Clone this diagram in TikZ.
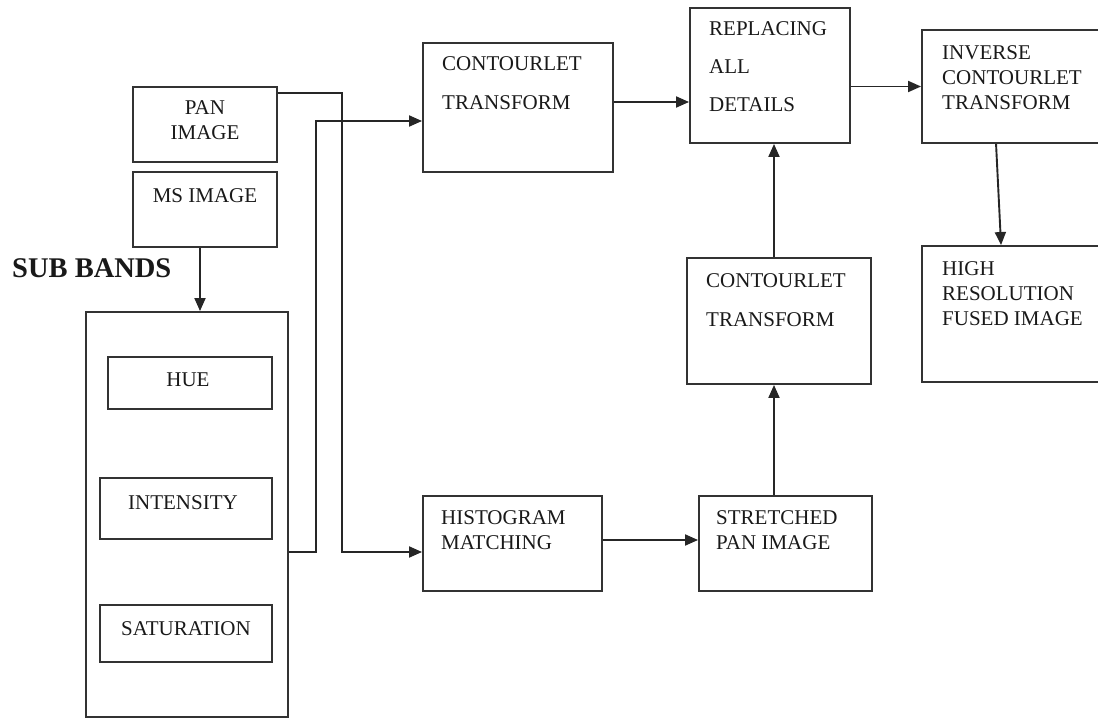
\documentclass[tikz,border=0pt]{standalone}
\usepackage{fontspec}
\setmainfont{Liberation Serif}
\usetikzlibrary{arrows.meta,calc}
\tikzset{
  box/.style={draw=black!80, line width=1.9pt, rectangle, inner sep=0pt},
  txt/.style={inner sep=0pt, align=left, anchor=north west, text=black!90,
    font=\fontsize{21}{25}\selectfont},
  ctxt/.style={txt, align=center, anchor=north},
  arr/.style={draw=black!85, line width=1.9pt, -{Triangle[length=13pt,width=11pt]}},
  ln/.style={draw=black!85, line width=1.9pt}
}
\begin{document}
\begin{tikzpicture}[x=1pt,y=-1pt]
\useasboundingbox (0,0) rectangle (1098,719);
\clip (0,0) rectangle (1098,719);
% boxes
\node[box, minimum width=144pt, minimum height=75pt] (pan) at (205,124.5) {};
\node[box, minimum width=144pt, minimum height=75pt] (ms) at (205,209.5) {};
\node[box, minimum width=202pt, minimum height=405pt] (sub) at (187,514.5) {};
\node[box, minimum width=164pt, minimum height=52pt] (hue) at (190,383) {};
\node[box, minimum width=172pt, minimum height=61pt] (int) at (186,508.5) {};
\node[box, minimum width=172pt, minimum height=57pt] (sat) at (186,633.5) {};
\node[box, minimum width=190pt, minimum height=129pt] (ct1) at (518,107.5) {};
\node[box, minimum width=160pt, minimum height=135pt] (rep) at (770,75.5) {};
\node[box, minimum width=198pt, minimum height=113pt] (inv) at (1021,86.5) {};
\node[box, minimum width=198pt, minimum height=136pt] (high) at (1021,314) {};
\node[box, minimum width=184pt, minimum height=126pt] (ct2) at (779,321) {};
\node[box, minimum width=179pt, minimum height=95pt] (hist) at (512.5,543.5) {};
\node[box, minimum width=173pt, minimum height=95pt] (str) at (785.5,543.5) {};
% texts
\node[ctxt] (pant) at (205,100) {PAN\\IMAGE};
\node[ctxt] (mst) at (205,188) {MS IMAGE};
\node[txt, font=\fontsize{28.5}{32}\bfseries] (subt) at (12,258) {SUB BANDS};
\node[ctxt] (huet) at (188,373) {HUE};
\node[ctxt] (intt) at (183,495) {INTENSITY};
\node[ctxt] (satt) at (186,621) {SATURATION};
\node[txt] (ct1t) at (442,56) {CONTOURLET\\[14pt]TRANSFORM};
\node[txt] (rept) at (709,21) {REPLACING\\[13pt]ALL\\[13pt]DETAILS};
\node[txt] (invt) at (942,45) {INVERSE\\CONTOURLET\\TRANSFORM};
\node[txt] (hight) at (942,261) {HIGH\\RESOLUTION\\FUSED IMAGE};
\node[txt] (ct2t) at (706,273) {CONTOURLET\\[14pt]TRANSFORM};
\node[txt] (histt) at (441,510) {HISTOGRAM\\MATCHING};
\node[txt] (strt) at (716,510) {STRETCHED\\PAN IMAGE};
% connectors
\coordinate (p1) at (342,93);
\coordinate (p2) at (342,552);
\coordinate (q1) at (316,552);
\coordinate (q2) at (316,121);
\coordinate (r1) at (0,102);
\coordinate (r2) at (0,540);
\coordinate (c) at (774,0);
\draw[arr] ([xshift=-5pt]ms.south) -- ([xshift=-5pt]ms.south |- sub.north);
\draw[arr] (p1 -| pan.east) -- (p1) -- (p2) -- (p2 -| hist.west);
\draw[arr] (q1 -| sub.east) -- (q1) -- (q2) -- (q2 -| ct1.west);
\draw[arr] (r1 -| ct1.east) -- (r1 -| rep.west);
\draw[arr] (inv.west -| rep.east) -- (inv.west);
\draw[arr] ([xshift=75pt]inv.south west) -- ([xshift=80pt]high.north west);
\draw[arr] (r2 -| hist.east) -- (r2 -| str.west);
\draw[arr] (c |- str.north) -- (c |- ct2.south);
\draw[arr] (c |- ct2.north) -- (c |- rep.south);
\end{tikzpicture}
\end{document}
